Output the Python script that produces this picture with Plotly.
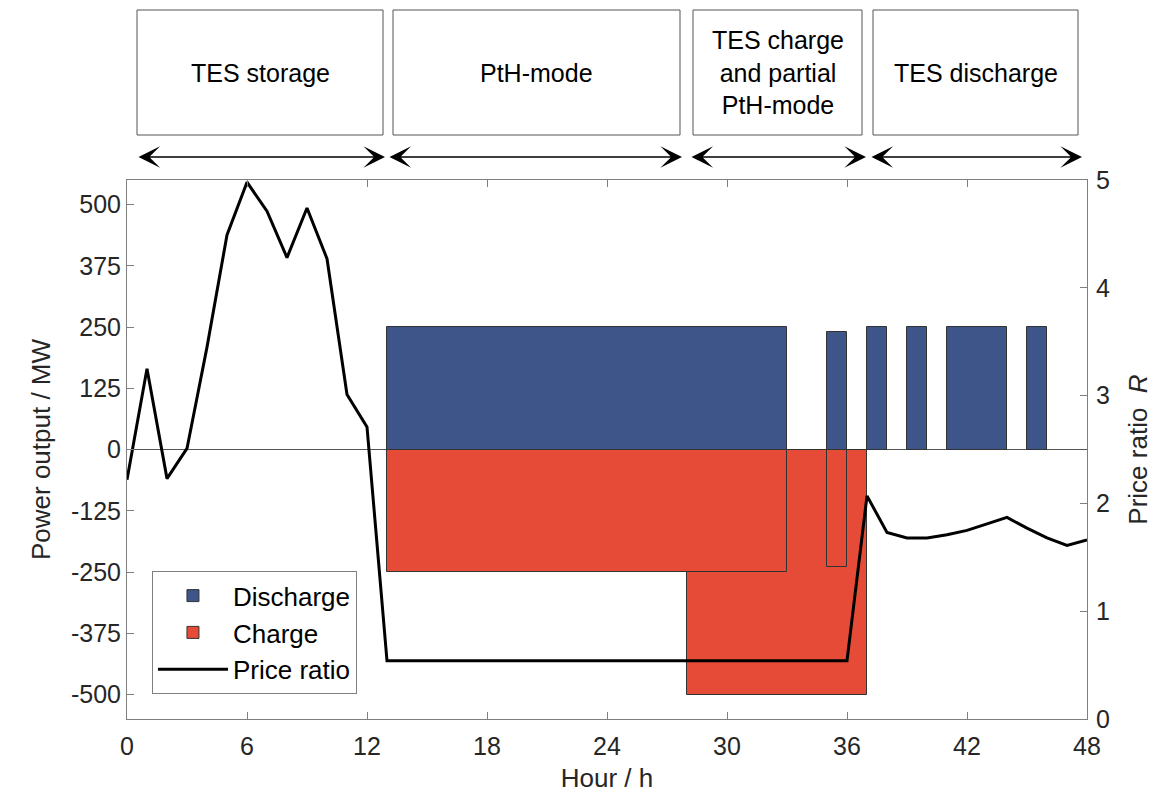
import plotly.graph_objects as go

# ---- data ----
hours = list(range(0, 49))
price_ratio = [2.22, 3.25, 2.23, 2.51, 3.45, 4.49, 4.98, 4.71, 4.28, 4.74, 4.27, 3.01, 2.71,
               0.54, 0.54, 0.54, 0.54, 0.54, 0.54, 0.54, 0.54, 0.54, 0.54, 0.54, 0.54, 0.54,
               0.54, 0.54, 0.54, 0.54, 0.54, 0.54, 0.54, 0.54, 0.54, 0.54, 0.54,
               2.07, 1.73, 1.68, 1.68, 1.71, 1.75, 1.81, 1.87, 1.77, 1.68, 1.61, 1.66]

discharge_start = [13, 35, 37, 39, 41, 45]
discharge_end = [33, 36, 38, 40, 44, 46]
discharge_power = [250, 240, 250, 250, 250, 250]

charge_start = [28, 13, 35]
charge_end = [37, 33, 36]
charge_power = [-500, -250, -240]

phase_labels = ["TES storage", "PtH-mode", "TES charge<br>and partial<br>PtH-mode", "TES discharge"]
phase_box_start = [0.5, 13.3, 28.3, 37.3]
phase_box_end = [12.8, 27.65, 36.75, 47.55]
arrow_start = [0.5, 13.05, 28.15, 37.15]
arrow_end = [12.9, 27.75, 36.95, 47.75]

x_ticks = list(range(0, 49, 6))
y_ticks = [-500, -375, -250, -125, 0, 125, 250, 375, 500]
y_tick_labels = ["-500", "-375", "-250", "-125", "0", "125", "250", "375", "500"]
y2_ticks = [0, 1, 2, 3, 4, 5]

BLUE = "#3D5588"
RED = "#E54B36"
TXT = "#262626"
AX = "#7f7f7f"
FONT = "Liberation Sans"

fig = go.Figure()

fig.add_trace(go.Bar(
    x=[(s + e) / 2 for s, e in zip(discharge_start, discharge_end)],
    y=discharge_power,
    width=[e - s for s, e in zip(discharge_start, discharge_end)],
    base=0, name="Discharge", marker=dict(color=BLUE, line=dict(color="#333333", width=1)),
))
fig.add_trace(go.Bar(
    x=[(s + e) / 2 for s, e in zip(charge_start, charge_end)],
    y=charge_power,
    width=[e - s for s, e in zip(charge_start, charge_end)],
    base=0, name="Charge", marker=dict(color=RED, line=dict(color="#333333", width=1)),
))
fig.add_trace(go.Scatter(
    x=hours, y=price_ratio, mode="lines", name="Price ratio", yaxis="y2",
    line=dict(color="black", width=3),
))

# page body has an 8px margin: figure occupies 1152x785 starting at (8,8)
W, H = 1152, 785
L, T = 119, 172
R_ = W - (1087 - 8)
B = H - (719 - 8)
ph = H - T - B

def px_to_py(y):
    # y in reference page pixels -> paper coords
    return (H - B - (y - 8)) / ph

shapes = []
annotations = []
for lab, s, e in zip(phase_labels, phase_box_start, phase_box_end):
    x0 = s / 48
    x1 = e / 48
    shapes.append(dict(type="rect", xref="paper", yref="paper", x0=x0, x1=x1,
                       y0=px_to_py(135), y1=px_to_py(10),
                       line=dict(color="#555555", width=1), fillcolor="rgba(0,0,0,0)"))
    annotations.append(dict(xref="paper", yref="paper", x=(x0 + x1) / 2, y=px_to_py(73),
                            text=lab, showarrow=False, xanchor="center", yanchor="middle",
                            font=dict(size=25, color="black", family=FONT)))
for s, e in zip(arrow_start, arrow_end):
    annotations.append(dict(xref="x", yref="paper", x=e, y=px_to_py(157), axref="x", ax=s,
                            ayref="pixel", ay=0, text="", showarrow=True, arrowside="end+start",
                            arrowhead=3, startarrowhead=3, arrowsize=2.4, startarrowsize=2.4,
                            arrowwidth=1.5, arrowcolor="black", standoff=0, startstandoff=0))

fig.update_layout(
    width=W, height=H,
    margin=dict(l=L, r=R_, t=T, b=B, autoexpand=False),
    paper_bgcolor="white", plot_bgcolor="white",
    barmode="overlay", bargap=0,
    font=dict(family=FONT, size=25, color=TXT),
    showlegend=True,
    legend=dict(x=0.026, y=0.046, xanchor="left", yanchor="bottom",
                bgcolor="white", bordercolor=AX, borderwidth=1, itemwidth=70,
                font=dict(size=26, color="black"), traceorder="normal"),
    xaxis=dict(range=[0, 48], tickvals=x_ticks, ticks="inside", ticklen=7, tickcolor=AX,
               showline=True, linecolor=AX, linewidth=1, mirror="ticks", showgrid=False,
               zeroline=False, automargin=False, ticklabelstandoff=5,
               title=dict(text="Hour / h", font=dict(size=26), standoff=10)),
    yaxis=dict(range=[-550, 550], tickvals=y_ticks, ticktext=y_tick_labels, ticks="inside",
               ticklen=7, tickcolor=AX, automargin=False,
               showline=True, linecolor=AX, linewidth=1, showgrid=False,
               zeroline=True, zerolinecolor="#555555", zerolinewidth=1,
               title=dict(text="Power output / MW", font=dict(size=26), standoff=12)),
    yaxis2=dict(range=[0, 5], tickvals=y2_ticks, overlaying="y", side="right", ticks="inside",
                ticklen=7, tickcolor=AX, showline=True, linecolor=AX, linewidth=1,
                showgrid=False, zeroline=False, automargin=False, ticklabelstandoff=3,
                title=dict(text="Price ratio  <i>R</i>", font=dict(size=26), standoff=19)),
    shapes=shapes, annotations=annotations,
)

fig.write_html("out.html")
